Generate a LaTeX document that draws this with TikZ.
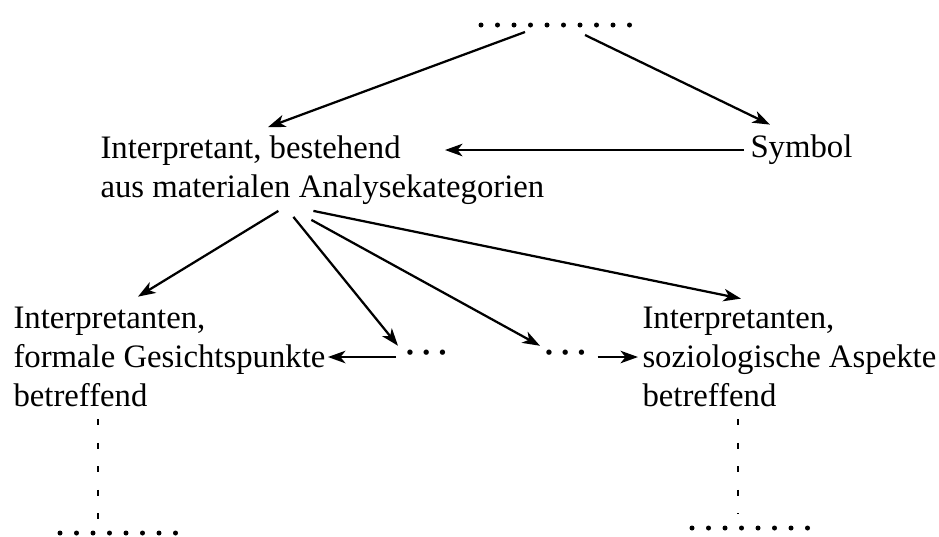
\documentclass[tikz,border=0pt]{standalone}
\usepackage{fontspec}
\setmainfont{Liberation Serif}
\usetikzlibrary{arrows.meta,calc}

\begin{document}
\begin{tikzpicture}[x=0.4pt,y=-0.4pt,
		txt/.style={anchor=west, align=left, inner sep=0pt, font=\fontsize{13.1}{15.6}\selectfont},
		arr/.style={-{Stealth[length=7pt,width=5pt,inset=2pt]}, line width=0.9pt},
		dotrow/.style={line width=2pt, line cap=round, dash pattern=on 0pt off 6.6pt},
		dashcol/.style={line width=1pt, dash pattern=on 2.4pt off 7pt}]
	\useasboundingbox (0,0) rectangle (939,536);

	% Nodes
	\coordinate (top) at (562,25);
	\node[txt] (interp) at (100,170) {Interpretant, bestehend\\aus materialen Analysekategorien};
	\node[txt] (symbol) at (750,150) {Symbol};
	\node[txt] (formal) at (13,357) {Interpretanten,\\formale Gesichtspunkte\\betreffend};
	\node[txt] (sozio) at (642,357) {Interpretanten,\\soziologische Aspekte\\betreffend};
	\node[txt] (ldots) at (404,357) {\bfseries ·\,·\,·};
	\node[txt] (rdots) at (543,357) {\bfseries ·\,·\,·};

	% Dotted ends
	\draw[dotrow] ($(top)+(-81,0)$) -- ($(top)+(82,0)$);
	\coordinate (lfoot) at (98,533);
	\coordinate (rfoot) at (738,528);
	\draw[dashcol] (formal.south -| lfoot) ++(0,12) -- ($(lfoot)+(0,-14)$);
	\draw[dashcol] (sozio.south -| rfoot) ++(0,12) -- ($(rfoot)+(0,-14)$);
	\draw[dotrow] ($(lfoot)+(-38,0)$) -- ($(lfoot)+(82,0)$);
	\draw[dotrow] ($(rfoot)+(-46,0)$) -- ($(rfoot)+(72,0)$);

	% Arrows
	\draw[arr] ($(top)+(-37,7)$) -- ($(interp.north west)+(168,-8)$);
	\draw[arr] ($(top)+(23,10)$) -- ($(symbol.north west)+(20,-10)$);
	\draw[arr] ($(symbol.west)+(-6,0)$) -- ($(symbol.west)+(-305,0)$);
	\draw[arr] ($(interp.south)+(-44,6)$) -- ($(formal.north west)+(125,-10)$);
	\draw[arr] ($(interp.south)+(-29,12)$) -- ($(ldots.north west)+(-6,-4)$);
	\draw[arr] ($(interp.south)+(-11,15)$) -- ($(rdots.north west)+(-3,-4)$);
	\draw[arr] ($(interp.south)+(-9,6)$) -- ($(sozio.north west)+(99,-8)$);
	\draw[arr] (ldots.west) ++(-8,0) -- ($(formal.east)+(2,0)$);
	\draw[arr] (rdots.east) ++(10,0) -- ($(sozio.west)+(-4,0)$);
\end{tikzpicture}
\end{document}
